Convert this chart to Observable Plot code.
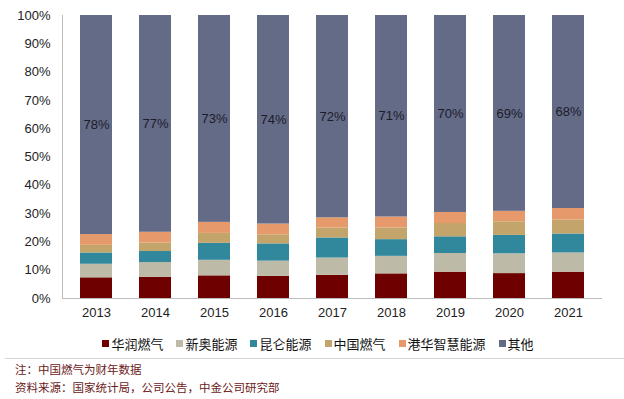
<!DOCTYPE html>
<html>
<head>
<meta charset="utf-8">
<script src="https://cdn.jsdelivr.net/npm/d3@7"></script>
<script src="https://cdn.jsdelivr.net/npm/@observablehq/plot@0.6"></script>
<style>
  html, body { margin: 0; padding: 0; background: #fff; }
  body { width: 624px; height: 399px; overflow: hidden; font-family: "Liberation Sans", "Noto Sans CJK SC", sans-serif; }
  #chart svg { display: block; }
  .legend { position: absolute; top: 334px; left: 0; width: 624px; display: flex; justify-content: center; gap: 13px; font-family: "Noto Sans CJK SC", sans-serif; font-size: 13px; color: #111; padding-left: 12px; box-sizing: border-box; }
  .legend span.item { display: inline-flex; align-items: center; }
  .legend i { display: inline-block; width: 7px; height: 7px; margin-right: 2px; }
  .sep { position: absolute; top: 358px; left: 5px; right: 0; border-top: 1px solid #d6d6d6; }
  .notes { position: absolute; top: 360px; left: 15px; font-family: "Noto Sans CJK SC", sans-serif; font-size: 11.5px; line-height: 18px; color: #6b1a1a; }
</style>
</head>
<body>
<div id="chart"></div>
<div class="legend" id="legend"></div>
<div class="sep"></div>
<div class="notes"><div>注：中国燃气为财年数据</div><div>资料来源：国家统计局，公司公告，中金公司研究部</div></div>
<script>
const years = ["2013","2014","2015","2016","2017","2018","2019","2020","2021"];
const seriesNames = ["华润燃气","新奥能源","昆仑能源","中国燃气","港华智慧能源","其他"];
const colors = ["#6e0000","#bdbba8","#31879c","#c3a46a","#e69a6c","#646b87"];
const huarun  = [7.3, 7.5, 8.0, 7.8, 8.2, 8.7, 9.3, 8.8, 9.3];
const xinao   = [4.8, 5.2, 5.5, 5.4, 6.1, 6.2, 6.6, 7.0, 6.8];
const kunlun  = [4.0, 3.9, 6.0, 6.1, 7.1, 5.9, 5.9, 6.5, 6.7];
const zhongguo= [2.7, 3.0, 3.5, 3.2, 3.5, 4.1, 4.7, 4.8, 4.9];
const ganghua = [3.8, 3.8, 3.9, 3.8, 3.6, 3.9, 3.9, 3.7, 4.1];
const qita    = [77.4, 76.6, 73.1, 73.7, 71.5, 71.2, 69.6, 69.2, 68.2];
const qitaLabels = ["78%","77%","73%","74%","72%","71%","70%","69%","68%"];
const yTicks = [0,10,20,30,40,50,60,70,80,90,100];

const seriesValues = [huarun, xinao, kunlun, zhongguo, ganghua, qita];
const data = [];
years.forEach((y, i) => {
  seriesNames.forEach((s, j) => {
    data.push({year: y, series: s, value: seriesValues[j][i], label: s === "其他" ? qitaLabels[i] : ""});
  });
});

const chart = Plot.plot({
  width: 624,
  height: 330,
  marginTop: 15,
  marginBottom: 32,
  marginLeft: 62,
  marginRight: 22,
  style: {fontFamily: "'Liberation Sans', Arial, sans-serif", fontSize: "13px", color: "#222", background: "#fff"},
  x: {domain: years, paddingInner: 0.45, paddingOuter: 0.23, label: null},
  y: {domain: [0, 100], label: null},
  color: {domain: seriesNames, range: colors},
  marks: [
    Plot.barY(data, {x: "year", y: "value", fill: "series", order: seriesNames, inset: 0}),
    Plot.text(data, Plot.stackY({x: "year", y: "value", z: "series", order: seriesNames, text: "label", fill: "#1c1c2a", fontSize: 13})),
    Plot.ruleY([0], {stroke: "#bdbdbd"}),
    Plot.frame({anchor: "left", stroke: "#bdbdbd"}),
    Plot.axisY({ticks: yTicks, tickSize: 0, tickPadding: 12, tickFormat: d => d + "%", fontSize: 13, label: null}),
    Plot.axisX({tickSize: 0, tickPadding: 9, fontSize: 13, label: null})
  ]
});
document.getElementById("chart").appendChild(chart);

const legend = document.getElementById("legend");
seriesNames.forEach((s, i) => {
  const it = document.createElement("span");
  it.className = "item";
  it.innerHTML = `<i style="background:${colors[i]}"></i>${s}`;
  legend.appendChild(it);
});
</script>
</body>
</html>
